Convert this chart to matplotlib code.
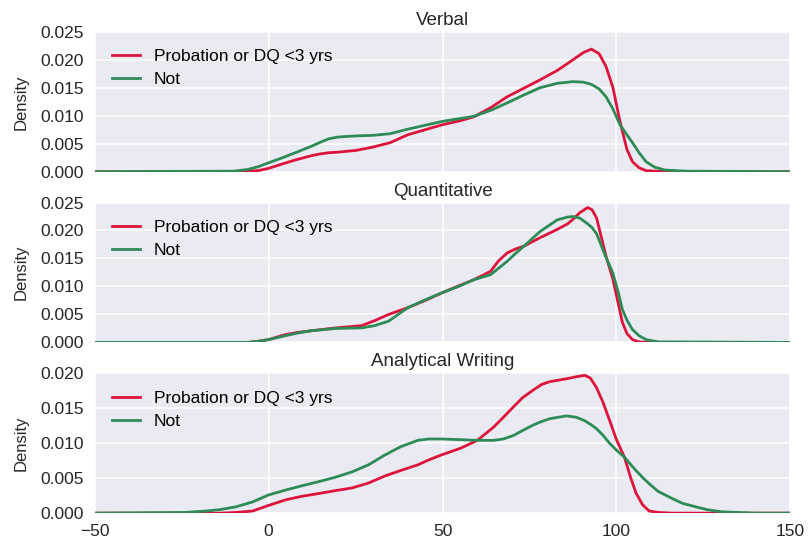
import numpy as np
import matplotlib
matplotlib.use("Agg")
import matplotlib.pyplot as plt

# densities (kde curves), x in score units
verbal_x = [-50, -10, -6, -3, 0, 4, 7.7, 12.5, 15, 17.4, 20, 25, 30, 35, 40, 45, 50, 55, 59, 64,
            68.6, 73, 78, 83, 87.5, 90.5, 92.8, 95, 97, 99, 101, 103, 104.6, 106.5, 108.5, 111,
            114, 120, 150]
verbal_prob = [0, 0, 0.0001, 0.0002, 0.0006, 0.0014, 0.0021, 0.0029, 0.0032, 0.0034, 0.0035, 0.0038,
               0.0044, 0.0052, 0.0066, 0.0075, 0.0084, 0.0091, 0.0098, 0.0115, 0.0134, 0.0148,
               0.0164, 0.0181, 0.0200, 0.0213, 0.0219, 0.0211, 0.0188, 0.0150, 0.0090, 0.0040,
               0.0018, 0.0007, 0.0002, 0.0001, 0, 0, 0]
verbal_not = [0, 0.0001, 0.0004, 0.0009, 0.0016, 0.0025, 0.0034, 0.0046, 0.0053, 0.0059, 0.0062,
              0.0064, 0.0065, 0.0068, 0.0076, 0.0083, 0.0090, 0.0095, 0.0099, 0.0110, 0.0123,
              0.0136, 0.0150, 0.0158, 0.0161, 0.0160, 0.0156, 0.0148, 0.0134, 0.0112, 0.0084,
              0.0066, 0.0052, 0.0034, 0.0018, 0.0008, 0.0003, 0.0001, 0]

quant_x = [-50, -6, -3, 0, 4.8, 8.5, 12.5, 19.4, 26.8, 30.5, 34.5, 40, 45, 50, 55, 59, 63.8, 66,
           68.6, 71, 73.4, 78, 83, 86, 87.5, 89.5, 91.7, 93, 94.3, 97, 98.9, 100.5, 101.7, 103,
           104.6, 106.5, 108.5, 112, 150]
quant_prob = [0, 0, 0.0002, 0.0005, 0.0014, 0.0018, 0.0021, 0.0026, 0.0030, 0.0039, 0.0050, 0.0062,
              0.0075, 0.0089, 0.0102, 0.0112, 0.0127, 0.0145, 0.0160, 0.0167, 0.0172, 0.0187,
              0.0202, 0.0212, 0.0220, 0.0232, 0.0241, 0.0237, 0.0222, 0.0154, 0.0115, 0.0070,
              0.0036, 0.0016, 0.0005, 0.0001, 0, 0, 0]
quant_not = [0, 0, 0.0002, 0.0005, 0.0012, 0.0017, 0.0021, 0.0025, 0.0026, 0.0030, 0.0038, 0.0062,
             0.0076, 0.0089, 0.0101, 0.0112, 0.0121, 0.0132, 0.0145, 0.0159, 0.0172, 0.0198,
             0.0219, 0.0224, 0.0225, 0.0222, 0.0212, 0.0205, 0.0194, 0.0152, 0.0125, 0.0090,
             0.0059, 0.0040, 0.0023, 0.0012, 0.0005, 0.0001, 0]

aw_x = [-50, -24, -18, -14, -9.4, -4.6, 0, 4.9, 9.5, 14.4, 19, 24, 28.7, 33.4, 38, 42.9, 46, 49.6,
        55.3, 60, 64.7, 67.5, 70.4, 73, 76.1, 78.5, 80.9, 85.6, 88.5, 90.9, 92.5, 94.2, 96, 98,
        100, 102.3, 104, 105.6, 107.5, 109.4, 112, 116, 119, 122.8, 126, 130, 135, 140, 150]
aw_prob = [0, 0, 0, 0, 0.0001, 0.0003, 0.0011, 0.0019, 0.0024, 0.0028, 0.0032, 0.0036, 0.0043,
           0.0053, 0.0061, 0.0069, 0.0076, 0.0083, 0.0093, 0.0104, 0.0123, 0.0137, 0.0152, 0.0165,
           0.0176, 0.0184, 0.0188, 0.0192, 0.0195, 0.0197, 0.0193, 0.0180, 0.0160, 0.0133, 0.0105,
           0.0080, 0.0052, 0.0029, 0.0012, 0.0003, 0.0001, 0, 0, 0, 0, 0, 0, 0, 0]
aw_not = [0, 0.0001, 0.0003, 0.0005, 0.0009, 0.0016, 0.0026, 0.0033, 0.0039, 0.0045, 0.0051, 0.0059,
          0.0069, 0.0083, 0.0095, 0.0104, 0.0106, 0.0106, 0.0105, 0.0104, 0.0104, 0.0106, 0.0111,
          0.0118, 0.0126, 0.0131, 0.0135, 0.0139, 0.0137, 0.0132, 0.0127, 0.0121, 0.0112, 0.0100,
          0.0090, 0.0080, 0.0070, 0.0061, 0.0051, 0.0042, 0.0031, 0.0021, 0.0014, 0.0009, 0.0005,
          0.0002, 0.0001, 0, 0]

panels = [("Verbal", verbal_x, verbal_prob, verbal_not, [0, 0.005, 0.01, 0.015, 0.02, 0.025]),
          ("Quantitative", quant_x, quant_prob, quant_not, [0, 0.005, 0.01, 0.015, 0.02, 0.025]),
          ("Analytical Writing", aw_x, aw_prob, aw_not, [0, 0.005, 0.01, 0.015, 0.02])]
labels = ["Probation or DQ <3 yrs", "Not"]
colors = ["#DC143C", "#2E8B57"]

plt.rcParams["font.family"] = ["Liberation Sans", "DejaVu Sans"]
plt.rcParams["font.size"] = 12

fig, axes = plt.subplots(3, 1, figsize=(8.09, 5.39), dpi=100, sharex=True)
fig.subplots_adjust(left=0.117, right=0.977, top=0.941, bottom=0.048, hspace=0.22)

for ax, (title, xs, prob, notp, yt) in zip(axes, panels):
    ax.set_facecolor("#EAEAF2")
    for s in ax.spines.values():
        s.set_visible(False)
    ax.grid(True, color="white", linewidth=1.1)
    ax.set_axisbelow(True)
    ax.plot(xs, prob, color=colors[0], lw=2.0, label=labels[0], solid_joinstyle="round")
    ax.plot(xs, notp, color=colors[1], lw=2.0, label=labels[1], solid_joinstyle="round")
    ax.set_xlim(-50, 150)
    ax.set_ylim(0, yt[-1])
    ax.set_yticks(yt)
    ax.set_yticklabels(["%.3f" % v for v in yt])
    ax.set_title(title, fontsize=13.5, pad=5, color="#262626")
    ax.set_ylabel("Density", color="#262626", labelpad=8)
    ax.tick_params(length=0, colors="#262626", labelsize=12.5, pad=8)
    ax.legend(loc="upper left", frameon=False, fontsize=12.5, handlelength=1.6,
              borderaxespad=0.6, labelspacing=0.45, handletextpad=0.8)

axes[-1].set_xticks([-50, 0, 50, 100, 150])
axes[-1].set_xticklabels(["\u221250", "0", "50", "100", "150"])

fig.savefig("out.png", dpi=100)
